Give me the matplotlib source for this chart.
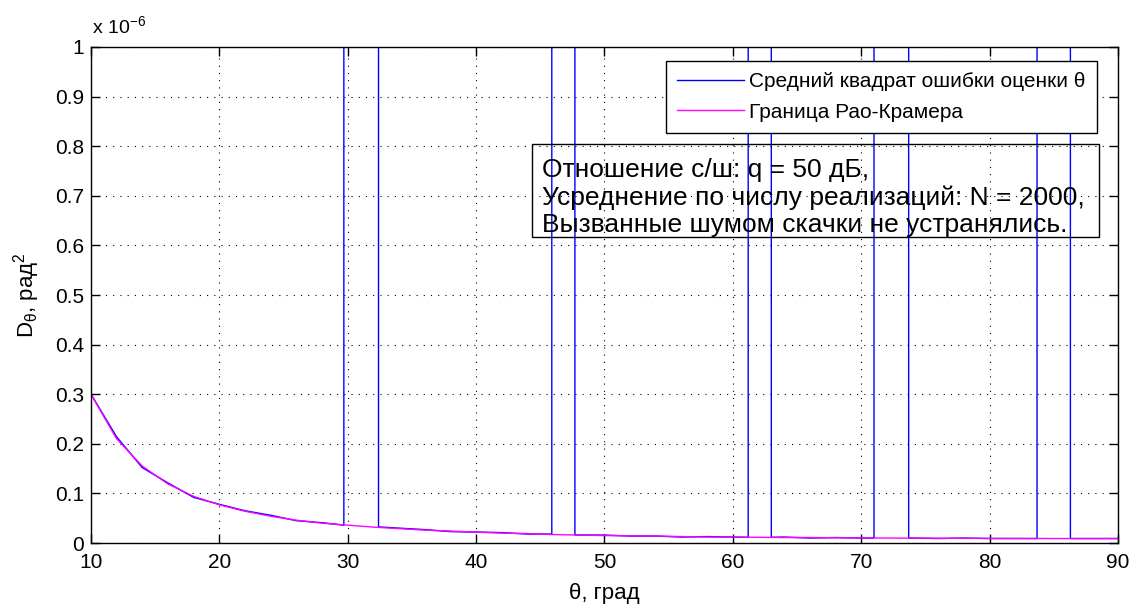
import numpy as np
import matplotlib.pyplot as plt
from matplotlib.patches import Rectangle

plt.rcParams['font.family'] = ['Liberation Sans', 'DejaVu Sans']
plt.rcParams['mathtext.fontset'] = 'custom'
plt.rcParams['mathtext.rm'] = 'Liberation Sans'
plt.rcParams['mathtext.it'] = 'Liberation Sans'

# Angle grid, degrees
theta = [10, 12, 14, 16, 18, 20, 22, 24, 26, 28, 30, 32, 34, 36, 38, 40,
         42, 44, 46, 48, 50, 52, 54, 56, 58, 60, 62, 64, 66, 68, 70, 72,
         74, 76, 78, 80, 82, 84, 86, 88, 90]

# Cramer-Rao bound, units of 1e-6 rad^2
crb = [0.300, 0.210, 0.155, 0.119, 0.094, 0.077, 0.064, 0.054, 0.046,
       0.040, 0.036, 0.032, 0.029, 0.026, 0.024, 0.022, 0.020, 0.019,
       0.017, 0.016, 0.015, 0.0145, 0.014, 0.013, 0.012, 0.012, 0.0115,
       0.011, 0.011, 0.0105, 0.0103, 0.010, 0.0098, 0.0096, 0.0094,
       0.0093, 0.0092, 0.0091, 0.0090, 0.0090, 0.0090]

# Mean square error of the estimate (without jumps), units of 1e-6 rad^2
mse = [0.300, 0.214, 0.152, 0.121, 0.092, 0.078, 0.065, 0.056, 0.045,
       0.041, 0.035, 0.033, 0.030, 0.027, 0.023, 0.022, 0.021, 0.018,
       0.018, 0.016, 0.016, 0.014, 0.014, 0.012, 0.013, 0.012, 0.011,
       0.012, 0.010, 0.011, 0.010, 0.010, 0.010, 0.009, 0.010, 0.009,
       0.009, 0.009, 0.009, 0.009, 0.009]

# Noise-induced jumps: angle intervals where the error leaves the plot
jump_start = [29.7, 45.9, 61.2, 71.0, 83.7]
jump_end = [32.4, 47.7, 63.0, 73.7, 86.3]
jump_level = 50.0

# Build the MSE curve with the jumps put in (x, order, y)
pts = [(t, 0, v) for t, v in zip(theta, mse)
       if not any(s <= t <= e for s, e in zip(jump_start, jump_end))]
for s, e in zip(jump_start, jump_end):
    pts += [(s, 0, np.interp(s, theta, mse)), (s, 1, jump_level),
            (e, 0, jump_level), (e, 1, np.interp(e, theta, mse))]
pts.sort(key=lambda p: (p[0], p[1]))
th_b = [p[0] for p in pts]
mse_b = [p[2] for p in pts]

fig = plt.figure(figsize=(11.37, 6.08), dpi=100)
ax = fig.add_axes([0.0800, 0.1069, 0.9032, 0.8158])

ax.plot(th_b, mse_b, color='#0000FF', lw=1.0,
        label='Средний квадрат ошибки оценки θ')
ax.plot(theta, crb, color='#FF00FF', lw=1.0,
        label='Граница Рао-Крамера')

ax.set_xlim(10, 90)
ax.set_ylim(0, 1)
ax.set_xticks(np.arange(10, 91, 10))
ax.set_yticks(np.arange(0, 1.01, 0.1))
ax.set_yticklabels(['0', '0.1', '0.2', '0.3', '0.4', '0.5', '0.6', '0.7',
                    '0.8', '0.9', '1'])
ax.tick_params(direction='in', top=True, right=True, length=6.5,
               width=1, labelsize=15, colors='black')
ax.tick_params(axis='x', pad=7)
ax.tick_params(axis='y', pad=5)
for sp in ax.spines.values():
    sp.set_linewidth(1)
    sp.set_color('black')
ax.grid(True, color='black', linestyle=(0, (1, 5.5)), lw=0.8)

ax.text(0.001, 1.02, r'x 10$^{-6}$', transform=ax.transAxes, fontsize=14,
        ha='left', va='bottom')

ax.set_xlabel('θ, град', fontsize=16, labelpad=8)
ax.set_ylabel(r'D$_{\mathrm{θ}}$, рад$^2$', fontsize=16, labelpad=9)

leg = ax.legend(loc='upper right', bbox_to_anchor=(0.9796, 0.9724),
                fontsize=15, fancybox=False, framealpha=1,
                edgecolor='black', handlelength=3.2, borderaxespad=0,
                borderpad=0.55, labelspacing=0.55, handletextpad=0.25)
leg.get_frame().set_linewidth(1)

# Info box
ax.add_patch(Rectangle((0.4294, 0.617), 0.552, 0.1874,
                       transform=ax.transAxes, fill=False, ec='black',
                       lw=1, zorder=5))
ax.text(0.439, 0.6966,
        'Отношение с/ш: q = 50 дБ,\n'
        'Усреднение по числу реализаций: N = 2000,\n'
        'Вызванные шумом скачки не устранялись.',
        transform=ax.transAxes, fontsize=19, linespacing=1.17,
        ha='left', va='center', zorder=5)

plt.savefig('out.png', dpi=100)
